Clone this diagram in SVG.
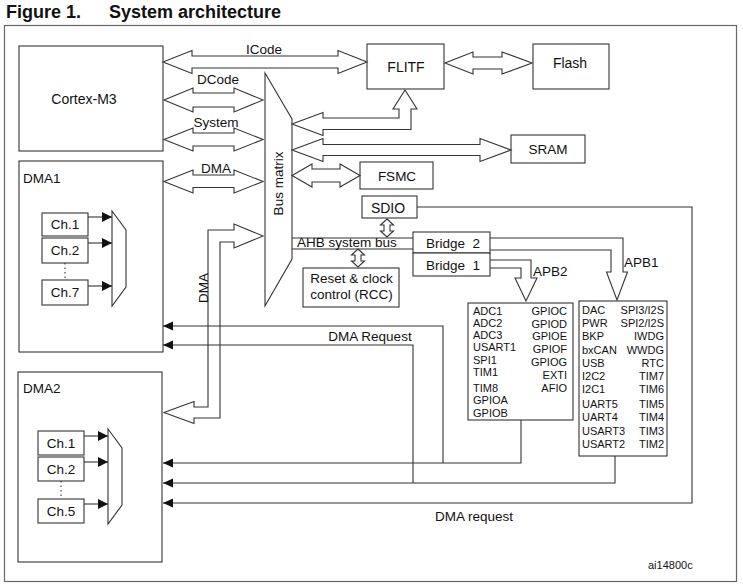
<svg xmlns="http://www.w3.org/2000/svg" width="743" height="588" viewBox="0 0 743 588">
<style>
text{font-family:"Liberation Sans",Arial,sans-serif;fill:#111}
.box{fill:#fff;stroke:#333;stroke-width:1.1}
.ln{fill:none;stroke:#333;stroke-width:1.1}
.bus{fill:#fff;stroke:#333;stroke-width:1.1;stroke-linejoin:miter}
.t13{font-size:13.5px}
.t14{font-size:14px}
.t11{font-size:11px}
.mid{text-anchor:middle}
.end{text-anchor:end}
</style>
<defs>
<marker id="ah" markerUnits="userSpaceOnUse" markerWidth="11" markerHeight="10" refX="10" refY="4.5" orient="auto">
<path d="M0,0 L10,4.5 L0,9 Z" fill="#111"/>
</marker>
<marker id="ch" markerUnits="userSpaceOnUse" markerWidth="11" markerHeight="11" refX="10" refY="5" orient="auto">
<path d="M0,0 L10,5 L0,10 Z" fill="#111"/>
</marker>
</defs>
<rect width="743" height="588" fill="#fff"/>
<text x="6" y="18" style="font-size:18px;font-weight:bold">Figure 1.</text>
<text x="109" y="18" style="font-size:18px;font-weight:bold">System architecture</text>
<rect x="4.5" y="25.5" width="732" height="556" fill="none" stroke="#666" stroke-width="1.2"/>

<g id="cortex"><rect class="box" x="19" y="46" width="144" height="105"/><text class="t14 mid" x="84" y="104">Cortex-M3</text></g>
<g id="dma1"><rect class="box" x="19" y="161" width="144" height="191"/><text class="t13" x="23" y="183">DMA1</text>
<rect class="box" x="42" y="213" width="46" height="23"/><text class="t13 mid" x="65" y="229">Ch.1</text>
<rect class="box" x="42" y="238" width="46" height="25"/><text class="t13 mid" x="65" y="255">Ch.2</text>
<rect class="box" x="42" y="280" width="46" height="25"/><text class="t13 mid" x="65" y="297">Ch.7</text>
<line class="ln" x1="65" y1="263" x2="65" y2="280" stroke-dasharray="1.5,3"/>
<polygon class="box" points="112,211 126,230 126,287 112,306"/>
<line class="ln" x1="88" y1="217" x2="112" y2="217" marker-end="url(#ch)"/>
<line class="ln" x1="88" y1="243" x2="112" y2="243" marker-end="url(#ch)"/>
<line class="ln" x1="88" y1="286" x2="112" y2="286" marker-end="url(#ch)"/>
</g>
<g id="dma2"><rect class="box" x="18" y="372" width="144" height="190"/><text class="t13" x="23" y="393">DMA2</text>
<rect class="box" x="38" y="431" width="46" height="24"/><text class="t13 mid" x="61" y="448">Ch.1</text>
<rect class="box" x="38" y="457" width="46" height="24"/><text class="t13 mid" x="61" y="474">Ch.2</text>
<rect class="box" x="38" y="499" width="46" height="24"/><text class="t13 mid" x="61" y="516">Ch.5</text>
<line class="ln" x1="61" y1="481" x2="61" y2="499" stroke-dasharray="1.5,3"/>
<polygon class="box" points="108,429 122,448 122,505 108,524"/>
<line class="ln" x1="84" y1="436" x2="108" y2="436" marker-end="url(#ch)"/>
<line class="ln" x1="84" y1="462" x2="108" y2="462" marker-end="url(#ch)"/>
<line class="ln" x1="84" y1="504" x2="108" y2="504" marker-end="url(#ch)"/>
</g>
<g id="busmatrix"><polygon class="box" points="265,73 292,119 292,259 265,306"/>
<text class="t13 mid" transform="translate(282.5,183.5) rotate(-90)">Bus matrix</text></g>
<g id="flitf"><rect class="box" x="367" y="44" width="77" height="45"/><text class="t14 mid" x="406" y="72">FLITF</text></g>
<g id="flash"><rect class="box" x="533" y="44" width="76" height="45"/><text class="t14 mid" x="570" y="68">Flash</text></g>
<g id="sram"><rect class="box" x="511" y="135" width="74" height="28"/><text class="t13 mid" x="548" y="154">SRAM</text></g>
<g id="fsmc"><rect class="box" x="360" y="162" width="73" height="27"/><text class="t13 mid" x="397" y="181">FSMC</text></g>
<g id="sdio"><rect class="box" x="362" y="196" width="55" height="22"/><text class="t14 mid" x="388" y="213">SDIO</text></g>
<g id="rcc"><rect class="box" x="303" y="268" width="96" height="39"/><text class="t13 mid" x="351.5" y="283">Reset &amp; clock</text><text class="t13 mid" x="351.5" y="299">control (RCC)</text></g>
<g id="bridge2"><rect class="box" x="413" y="232" width="77" height="21"/><text class="t13" x="426" y="248" xml:space="preserve">Bridge  2</text></g>
<g id="bridge1"><rect class="box" x="413" y="253" width="77" height="23"/><text class="t13" x="426" y="270" xml:space="preserve">Bridge  1</text></g>
<g id="apb2periph"><rect class="box" x="468" y="303" width="105" height="117"/>
<g class="t11"><text x="473" y="315">ADC1</text><text x="473" y="327">ADC2</text><text x="473" y="338.5">ADC3</text><text x="473" y="351">USART1</text><text x="473" y="363.5">SPI1</text><text x="473" y="376">TIM1</text><text x="473" y="392">TIM8</text><text x="473" y="404">GPIOA</text><text x="473" y="417">GPIOB</text></g>
<g class="t11 end"><text x="567" y="315">GPIOC</text><text x="567" y="327.5">GPIOD</text><text x="567" y="340">GPIOE</text><text x="567" y="353">GPIOF</text><text x="567" y="366">GPIOG</text><text x="567" y="378.5">EXTI</text><text x="567" y="392">AFIO</text></g></g>
<g id="apb1periph"><rect class="box" x="579" y="301" width="88" height="155"/>
<g class="t11"><text x="582" y="314">DAC</text><text x="582" y="327">PWR</text><text x="582" y="339.5">BKP</text><text x="582" y="354">bxCAN</text><text x="582" y="366.5">USB</text><text x="582" y="380">I2C2</text><text x="582" y="393">I2C1</text><text x="582" y="408">UART5</text><text x="582" y="421">UART4</text><text x="582" y="435">USART3</text><text x="582" y="448">USART2</text></g>
<g class="t11 end"><text x="664" y="314">SPI3/I2S</text><text x="664" y="327">SPI2/I2S</text><text x="664" y="339.5">IWDG</text><text x="664" y="354">WWDG</text><text x="664" y="366.5">RTC</text><text x="664" y="380">TIM7</text><text x="664" y="393">TIM6</text><text x="664" y="408">TIM5</text><text x="664" y="421">TIM4</text><text x="664" y="434.5">TIM3</text><text x="664" y="447.5">TIM2</text></g></g>

<g id="connectors">
<polygon class="bus" points="163,62 192,50.5 192,56 338,56 338,50.5 367,62 338,73.5 338,68 192,68 192,73.5"/>
<text class="t13 mid" x="264" y="54">ICode</text>
<polygon class="bus" points="164,100 193,88 193,93 234,93 234,88 263,100 234,112 234,107 193,107 193,112"/>
<text class="t13 mid" x="218" y="84">DCode</text>
<polygon class="bus" points="164,139.5 193,128 193,133 234,133 234,128 263,139.5 234,151 234,146 193,146 193,151"/>
<text class="t13 mid" x="216" y="127">System</text>
<polygon class="bus" points="164,181.5 193,170 193,175 234,175 234,170 263,181.5 234,193 234,187.5 193,187.5 193,193"/>
<text class="t13 mid" x="216" y="173">DMA</text>
<polygon class="bus" points="445,63 473,52 473,57 502,57 502,52 532,63 502,74 502,69 473,69 473,74"/>
<polygon class="bus" points="292,124 323,112.5 323,118 399,118 399,109 393,109 405,90 417,109 411,109 411,129.5 323,129.5 323,135.5"/>
<polygon class="bus" points="292,150 323,138.5 323,144.5 480,144.5 480,138.5 511,150 480,161.5 480,155.5 323,155.5 323,161.5"/>
<polygon class="bus" points="292,175.5 312,164 312,169 340,169 340,164 360,175.5 340,187 340,182 312,182 312,187"/>
<polygon class="bus" style="fill:none" points="263,236 234,224 234,230 208,230 208,407 194,407 194,401.5 164,412.5 194,423.5 194,418 220,418 220,242 234,242 234,248"/>
<text class="t13 mid" transform="translate(207.5,288) rotate(-90)">DMA</text>
<line class="ln" x1="292" y1="238" x2="413" y2="238"/>
<line class="ln" x1="292" y1="249" x2="413" y2="249"/>
<text class="t13" x="297" y="247">AHB system bus</text>
<polygon class="bus" points="387,219 393.5,225 390,225 390,231 393.5,231 387,237 380.5,231 384,231 384,225 380.5,225"/>
<polygon class="bus" points="358,249 364.5,255 361,255 361,261 364.5,261 358,267 351.5,261 355,261 355,255 351.5,255"/>
<polyline class="ln" points="490,238 623,238 623,272 627.5,272 617,300 606.5,272 611,272 611,250 490,250"/>
<text class="t13" x="624" y="267">APB1</text>
<polyline class="ln" points="490,260 531,260 531,278 537,278 526,301 515,278 521,278 521,268 490,268"/>
<text class="t13" x="533" y="276">APB2</text>
<polyline class="ln" points="521,420 521,463 163,463" marker-end="url(#ah)"/>
<polyline class="ln" points="443,463 443,326 163,326" marker-end="url(#ah)"/>
<polyline class="ln" points="615,456 615,483 163,483" marker-end="url(#ah)"/>
<polyline class="ln" points="413,483 413,345 163,345" marker-end="url(#ah)"/>
<polyline class="ln" points="417,207 692,207 692,503 163,503" marker-end="url(#ah)"/>
<text class="t13 mid" x="370" y="341">DMA Request</text>
<text class="t13" x="435" y="521">DMA request</text>
</g>
<text class="t11" x="648" y="569">ai14800c</text>
</svg>
